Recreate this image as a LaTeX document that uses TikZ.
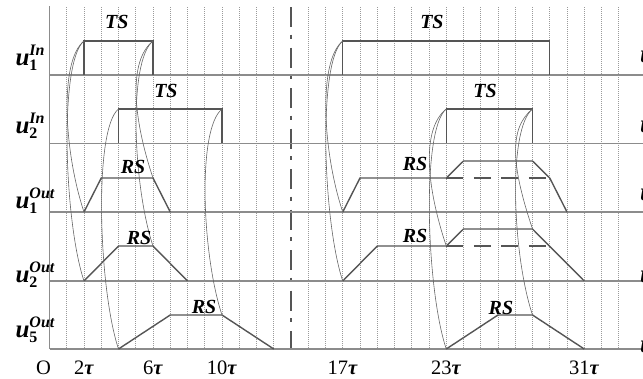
\documentclass[tikz,border=0pt]{standalone}
\usepackage{fontspec}
\setmainfont{Liberation Serif}
\definecolor{sigc}{HTML}{555555}
\definecolor{gridc}{HTML}{9A9A9A}
\definecolor{basec}{HTML}{8C8C8C}
\definecolor{arcc}{HTML}{666666}
\newcommand\ulab[2]{\fontsize{25}{25}\selectfont\bfseries\itshape u\rlap{\raisebox{10pt}{\fontsize{16}{16}\selectfont #2}}\raisebox{-5pt}{\fontsize{16}{16}\selectfont\upshape #1}}
\newcommand\tauu{\textbf{\textit{τ}}}
\begin{document}
\begin{tikzpicture}[x=17.25pt,y=-1pt,
  sig/.style={draw=sigc,line width=1.4pt,line join=miter},
  dsig/.style={draw=sigc,line width=1.4pt,dash pattern=on 17pt off 10.5pt},
  gridl/.style={draw=gridc,line width=0.7pt,dash pattern=on 1pt off 1pt},
  basel/.style={draw=basec,line width=1.2pt},
  arcl/.style={draw=arcc,line width=0.6pt},
  dashdotl/.style={draw=sigc,line width=1.5pt,dash pattern=on 20pt off 7.5pt on 4pt off 9pt},
  lab/.style={font=\fontsize{20}{20}\selectfont\bfseries\itshape,inner sep=0pt},
  bl/.style={anchor=base,font=\fontsize{20.5}{20.5}\selectfont,inner sep=0pt},
  ul/.style={anchor=base west,inner sep=0pt},
  ucut/.style={anchor=base west,inner sep=0pt,font=\fontsize{25}{25}\selectfont\bfseries\itshape}]
\useasboundingbox (-2.8696,0) rectangle (34.4058,378);
% grid
\foreach \i in {1,...,13,15,16,...,33} \draw[gridl] (\i,7) -- (\i,349);
\draw[dashdotl] (14,7) -- (14,349);
\draw[draw=basec,line width=1pt] (0,349) -- (0,6);
% baselines
\foreach \y in {75,143.3,212,281,349} \draw[basel] (0,\y) -- (34.5,\y);
% coordinates
\coordinate (a1s) at (2,41);  \coordinate (a1e) at (6,41);
\coordinate (b1s) at (4,109); \coordinate (b1e) at (10,109);
\coordinate (c1s) at (2,212); \coordinate (c1e) at (6,178);
\coordinate (d1s) at (2,281); \coordinate (d1e) at (6,246);
\coordinate (e1s) at (4,349); \coordinate (e1e) at (10,315);
\coordinate (a2s) at (17,41); \coordinate (a2e) at (29,41);
\coordinate (b2s) at (23,109); \coordinate (b2e) at (28,109);
\coordinate (c2s) at (17,212); \coordinate (d2s) at (17,281);
\coordinate (d2v) at (23,246); \coordinate (d2e) at (28,229);
\coordinate (e2s) at (23,349); \coordinate (e2e) at (28,315);
% signals left
\draw[sig] (2,75) -- (a1s) -- (a1e) -- (6,75);
\draw[sig] (4,143.3) -- (b1s) -- (b1e) -- (10,143.3);
\draw[sig] (c1s) -- (3,178) -- (c1e) -- (7,212);
\draw[sig] (d1s) -- (4,246) -- (d1e) -- (8,281);
\draw[sig] (e1s) -- (7,315) -- (e1e) -- (13,349);
% signals right
\draw[sig] (17,75) -- (a2s) -- (a2e) -- (29,75);
\draw[sig] (23,143.3) -- (b2s) -- (b2e) -- (28,143.3);
\draw[sig] (c2s) -- (18,178) -- (23,178) -- (24,161) -- (28,161) -- (29,178) -- (30,212);
\draw[dsig] (23,178) -- (29,178);
\draw[sig] (d2s) -- (19,246) -- (d2v) -- (24,229) -- (d2e) -- (31,281);
\draw[dsig] (23,246) -- (29,246);
\draw[sig] (e2s) -- (26,315) -- (e2e) -- (31,349);
% arcs
\foreach \s/\e in {a1s/c1s,a1s/d1s,a1e/c1e,a1e/d1e,b1s/e1s,b1e/e1e,a2s/c2s,a2s/d2s,b2s/d2v,b2s/e2s,b2e/d2e,b2e/e2e}
  \draw[arcl] (\s) .. controls +(-1.45,20) and +(-1.16,-60) .. (\e);
% TS / RS labels
\node[lab] (ts1) at (3.9,22) {TS};
\node[lab] (ts2) at (6.75,91) {TS};
\node[lab] (rs1) at (4.84,167) {RS};
\node[lab] (rs2) at (5.19,238) {RS};
\node[lab] (rs3) at (8.96,307) {RS};
\node[lab] (ts3) at (22.17,22) {TS};
\node[lab] (ts4) at (25.25,91) {TS};
\node[lab] (rs4) at (21.19,164) {RS};
\node[lab] (rs5) at (21.19,236) {RS};
\node[lab] (rs6) at (26.17,308) {RS};
% left labels
\node[ul] (l1) at (-1.98,65) {\ulab{1}{In}};
\node[ul] (l2) at (-1.98,133) {\ulab{2}{In}};
\node[ul] (l3) at (-1.98,208) {\ulab{1}{Out}};
\node[ul] (l4) at (-1.98,282) {\ulab{2}{Out}};
\node[ul] (l5) at (-1.98,337) {\ulab{5}{Out}};
% right labels, cut off by the edge
\node[ucut] (r1) at (34.23,62) {u};
\node[ucut] (r2) at (34.23,132) {u};
\node[ucut] (r3) at (34.23,200) {u};
\node[ucut] (r4) at (34.23,282) {u};
\node[ucut] (r5) at (34.23,352) {u};
% bottom labels
\node[bl] (t0) at (-0.35,374) {O};
\node[bl] (t2) at (2,374) {2\tauu};
\node[bl] (t6) at (6,374) {6\tauu};
\node[bl] (t10) at (10,374) {10\tauu};
\node[bl] (t17) at (17,374) {17\tauu};
\node[bl] (t23) at (23,374) {23\tauu};
\node[bl] (t31) at (31,374) {31\tauu};
\end{tikzpicture}
\end{document}
